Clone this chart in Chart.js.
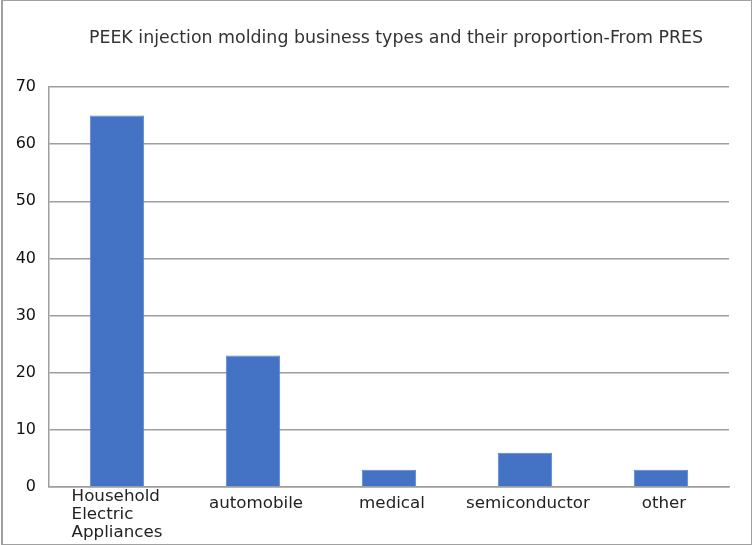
<!DOCTYPE html>
<html>
<head>
<meta charset="utf-8">
<script src="https://cdn.jsdelivr.net/npm/chart.js@4/dist/chart.umd.min.js"></script>
<style>
  html, body { margin: 0; padding: 0; background: #fff; }
  #wrap { position: relative; width: 752px; height: 545px; }
  #frame {
    position: absolute; left: 1px; top: -1px; width: 748px; height: 543px;
    border: 2px solid #a0a0a0; pointer-events: none;
  }
</style>
</head>
<body>
<div id="wrap">
  <canvas id="chart" width="752" height="545"></canvas>
  <div id="frame"></div>
</div>
<script>
// categorias e valores
const categories = [['Household', 'Electric', 'Appliances'], 'automobile', 'medical', 'semiconductor', 'other'];
const shares = [65, 23, 3, 6, 3];
const yTicks = [0, 10, 20, 30, 40, 50, 60, 70];
const chartTitle = 'PEEK injection molding business types and their proportion-From PRES';

const fontFamily = '"DejaVu Sans", Verdana, sans-serif';

// desenha o título e os rótulos do eixo x (linhas alinhadas à esquerda, bloco centrado na barra)
const textPlugin = {
    id: 'textPlugin',
    afterDraw(chart) {
        const ctx = chart.ctx;
        const area = chart.chartArea;
        const xScale = chart.scales.x;
        ctx.save();
        ctx.fillStyle = '#333';
        ctx.font = '17.4px ' + fontFamily;
        ctx.textAlign = 'center';
        ctx.textBaseline = 'middle';
        ctx.fillText(chartTitle, (area.left + area.right) / 2 + 7, 38);

        ctx.fillStyle = '#222';
        ctx.font = '16.7px ' + fontFamily;
        categories.forEach((label, i) => {
            const cx = xScale.getPixelForValue(i);
            if (Array.isArray(label)) {
                const w = Math.max(...label.map(l => ctx.measureText(l).width));
                ctx.textAlign = 'left';
                label.forEach((line, j) => {
                    ctx.fillText(line, cx - w / 2, xScale.top + 10 + j * 18);
                });
            } else {
                ctx.textAlign = 'center';
                ctx.fillText(label, cx + 3, xScale.top + 17);
            }
        });
        ctx.restore();
    }
};

new Chart(document.getElementById('chart'), {
    type: 'bar',
    data: {
        labels: categories,
        datasets: [{
            data: shares,
            backgroundColor: '#4472C4',
            borderColor: '#5a83cf',
            borderWidth: 1,
            barPercentage: 0.4,
            categoryPercentage: 1
        }]
    },
    options: {
        responsive: false,
        animation: false,
        layout: { padding: { left: 0, right: 23, top: 87, bottom: 0 } },
        plugins: {
            legend: { display: false },
            tooltip: { enabled: false },
            title: { display: false }
        },
        scales: {
            x: {
                grid: { display: false },
                border: { color: '#9e9e9e', width: 1.5 },
                ticks: { display: false },
                afterFit: scale => { scale.height = 58; }
            },
            y: {
                min: 0,
                max: 70,
                afterBuildTicks: scale => { scale.ticks = yTicks.map(v => ({ value: v })); },
                grid: { color: '#9e9e9e', lineWidth: 1.5, drawTicks: false },
                border: { color: '#9e9e9e', width: 1.5 },
                ticks: {
                    color: '#111',
                    padding: 13,
                    font: { family: fontFamily, size: 16 }
                },
                afterFit: scale => { scale.width = 49; }
            }
        }
    },
    plugins: [textPlugin]
});
</script>
</body>
</html>
